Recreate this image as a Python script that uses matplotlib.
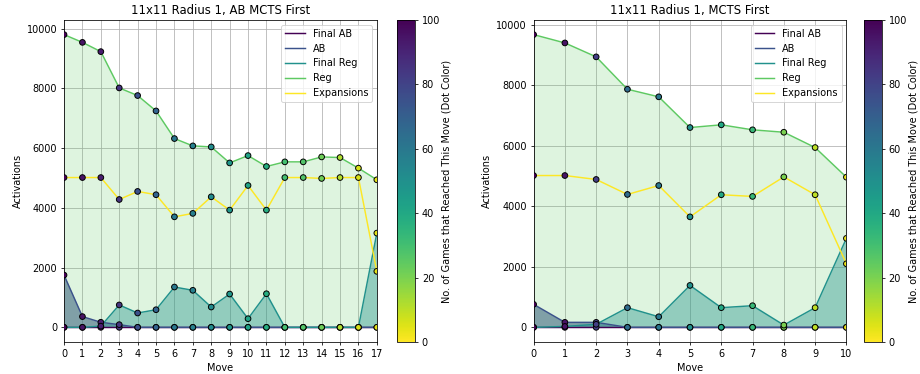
import matplotlib
matplotlib.use("Agg")
import matplotlib.pyplot as plt
import numpy as np

# left panel: 11x11 Radius 1, AB MCTS First
ab_first_final_ab = [0, 0, 0, 0, 0, 0, 0, 0, 0, 0, 0, 0, 0, 0, 0, 0, 0, 0]
ab_first_ab = [1750, 360, 170, 90, 0, 0, 0, 0, 0, 0, 0, 0, 0, 0, 0, 0, 0, 0]
ab_first_final_reg = [0, 0, 40, 750, 480, 590, 1350, 1240, 680, 1115, 290, 1125, 0, 0, 0, 0, 0, 3155]
ab_first_reg = [9800, 9540, 9230, 8015, 7760, 7245, 6320, 6075, 6040, 5505, 5750, 5385, 5540, 5540, 5705, 5685, 5330, 4940]
ab_first_exp = [5015, 5015, 5015, 4280, 4550, 4440, 3700, 3815, 4370, 3925, 4750, 3925, 5015, 5015, 4985, 5015, 5015, 1875]
ab_first_games = [100, 95, 92, 85, 75, 68, 60, 57, 52, 47, 42, 38, 30, 27, 22, 12, 6, 4]

# right panel: 11x11 Radius 1, MCTS First
mcts_first_final_ab = [0, 0, 0, 0, 0, 0, 0, 0, 0, 0, 0]
mcts_first_ab = [760, 165, 165, 0, 0, 0, 0, 0, 0, 0, 0]
mcts_first_final_reg = [0, 30, 100, 650, 350, 1385, 650, 715, 75, 650, 2940]
mcts_first_reg = [9670, 9395, 8935, 7865, 7615, 6600, 6690, 6525, 6445, 5940, 4960]
mcts_first_exp = [5015, 5015, 4885, 4390, 4685, 3650, 4380, 4325, 4970, 4380, 2100]
mcts_first_games = [100, 95, 82, 65, 60, 50, 40, 33, 20, 10, 3]

cmap = "viridis_r"
line_cols = plt.cm.viridis(np.linspace(0, 1, 5))


def plot_panel(ax, cax, title, final_ab, ab, final_reg, reg, exp, games):
    moves = np.arange(len(reg))
    # name, values, fill alpha, fill zorder
    series = [("Final AB", final_ab, 0.6, 1.0), ("AB", ab, 0.6, 1.0), ("Final Reg", final_reg, 0.4, 1.2),
              ("Reg", reg, 0.2, 1.1), ("Expansions", exp, None, None)]
    for (name, vals, alpha, fz), col in zip(series, line_cols):
        ax.plot(moves, vals, color=col, label=name, zorder=2)
        if alpha is not None:
            ax.fill_between(moves, 0, vals, color=col, alpha=alpha, lw=0, zorder=fz)
    for name, vals, alpha, fz in series:
        sc = ax.scatter(moves, vals, c=games, cmap=cmap, vmin=0, vmax=100,
                        edgecolors="black", s=34, zorder=3)
    ax.set_xlim(0, len(reg) - 1)
    ax.set_xticks(moves)
    ax.grid(True)
    ax.set_axisbelow(True)
    ax.set_title(title)
    ax.set_xlabel("Move")
    ax.set_ylabel("Activations")
    ax.legend(loc="upper right")
    cb = plt.colorbar(sc, cax=cax)
    cb.set_label("No. of Games that Reached This Move (Dot Color)", labelpad=1)


fig = plt.figure(figsize=(920 / 70, 374 / 70), dpi=70)
ax1 = fig.add_axes([0.0696, 0.0856, 0.340, 0.861])
cax1 = fig.add_axes([0.4315, 0.0856, 0.0196, 0.861])
ax2 = fig.add_axes([0.5800, 0.0856, 0.340, 0.861])
cax2 = fig.add_axes([0.9390, 0.0856, 0.0196, 0.861])

plot_panel(ax1, cax1, "11x11 Radius 1, AB MCTS First", ab_first_final_ab, ab_first_ab,
           ab_first_final_reg, ab_first_reg, ab_first_exp, ab_first_games)
plot_panel(ax2, cax2, "11x11 Radius 1, MCTS First", mcts_first_final_ab, mcts_first_ab,
           mcts_first_final_reg, mcts_first_reg, mcts_first_exp, mcts_first_games)

fig.savefig("out.png", dpi=70)
